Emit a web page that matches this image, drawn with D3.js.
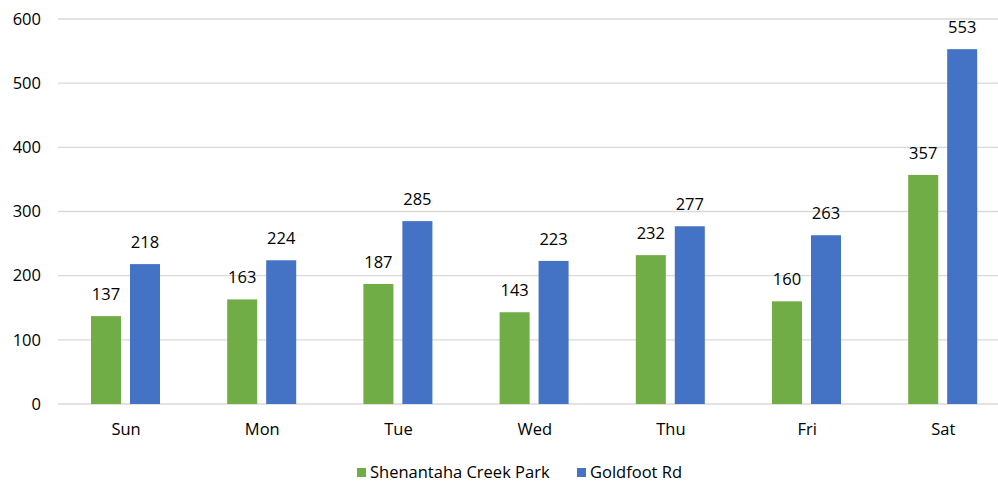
<!DOCTYPE html>
<html>
<head>
<meta charset="utf-8">
<script src="https://cdn.jsdelivr.net/npm/d3@7"></script>
<style>
  body { margin: 0; background: #fff; }
  svg { display: block; font-family: "Open Sans", "Noto Sans", sans-serif; }
</style>
</head>
<body>
<svg id="chart"></svg>
<script>
var days = ["Sun", "Mon", "Tue", "Wed", "Thu", "Fri", "Sat"]
var seriesNames = ["Shenantaha Creek Park", "Goldfoot Rd"]
var shenantaha = [137, 163, 187, 143, 232, 160, 357]
var goldfoot = [218, 224, 285, 223, 277, 263, 553]
var yTicks = [0, 100, 200, 300, 400, 500, 600]
var colors = ["#70AD47", "#4472C4"]

var dimensions = {
  width: 998,
  height: 485,
  margin: { top: 19, bottom: 81, right: 0, left: 58 }
}

var svg = d3.select("#chart")
  .attr("width", dimensions.width)
  .attr("height", dimensions.height)

// the category bands run a little past the right edge of the picture
var xScale = d3.scaleBand()
  .domain(days)
  .range([dimensions.margin.left, dimensions.margin.left + 7 * 136.2])

var inner = d3.scaleBand()
  .domain([0, 1])
  .range([33, 102])
  .paddingInner(0.23)

var yScale = d3.scaleLinear()
  .domain([0, 600])
  .range([dimensions.height - dimensions.margin.bottom, dimensions.margin.top])

// gridlines
svg.append("g")
  .selectAll("line")
  .data(yTicks)
  .enter().append("line")
  .attr("x1", dimensions.margin.left)
  .attr("x2", dimensions.width - dimensions.margin.right)
  .attr("y1", d => yScale(d))
  .attr("y2", d => yScale(d))
  .attr("stroke", "#d9d9d9")
  .attr("stroke-width", 1.3)

// y tick labels
svg.append("g")
  .selectAll("text")
  .data(yTicks)
  .enter().append("text")
  .attr("x", 41)
  .attr("y", d => yScale(d))
  .attr("dy", "0.35em")
  .attr("text-anchor", "end")
  .attr("font-size", 16.5)
  .attr("fill", "#000")
  .text(d => d)

var rows = days.map((d, i) => ({ day: d, values: [shenantaha[i], goldfoot[i]] }))

var groups = svg.selectAll("g.day")
  .data(rows)
  .enter().append("g")
  .attr("class", "day")
  .attr("transform", d => `translate(${xScale(d.day)},0)`)

groups.selectAll("rect")
  .data(d => d.values.map((v, s) => ({ s: s, v: v })))
  .enter().append("rect")
  .attr("x", d => inner(d.s))
  .attr("width", inner.bandwidth())
  .attr("y", d => yScale(d.v))
  .attr("height", d => yScale(0) - yScale(d.v))
  .attr("fill", d => colors[d.s])

groups.selectAll("text.val")
  .data(d => d.values.map((v, s) => ({ s: s, v: v })))
  .enter().append("text")
  .attr("class", "val")
  .attr("x", d => inner(d.s) + inner.bandwidth() / 2)
  .attr("y", d => yScale(d.v) - 16)
  .attr("text-anchor", "middle")
  .attr("font-size", 16.5)
  .text(d => d.v)

// category labels
svg.append("g")
  .selectAll("text")
  .data(days)
  .enter().append("text")
  .attr("x", d => xScale(d) + xScale.bandwidth() / 2)
  .attr("y", 435)
  .attr("text-anchor", "middle")
  .attr("font-size", 16.5)
  .text(d => d)

// legend
var legendX = [357, 577]
var legend = svg.append("g")
  .selectAll("g")
  .data(seriesNames)
  .enter().append("g")
  .attr("transform", (d, i) => `translate(${legendX[i]},468)`)

legend.append("rect")
  .attr("width", 9)
  .attr("height", 9)
  .attr("fill", (d, i) => colors[i])

legend.append("text")
  .attr("x", 13)
  .attr("y", 10)
  .attr("font-size", 16.5)
  .text(d => d)
</script>
</body>
</html>
